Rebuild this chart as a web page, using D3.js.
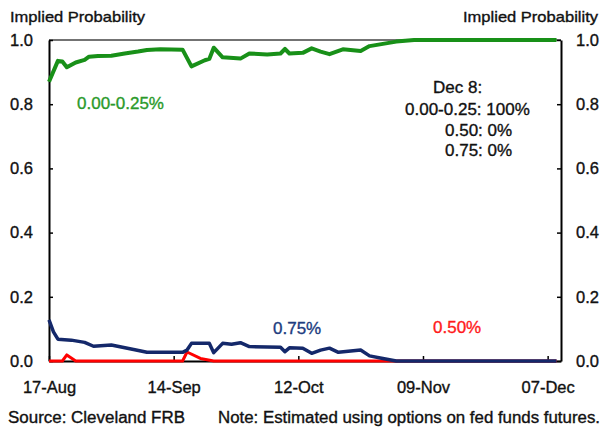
<!DOCTYPE html>
<html>
<head>
<meta charset="utf-8">
<script src="https://cdn.jsdelivr.net/npm/d3@7"></script>
<style>
  body { margin: 0; background: #fff; }
  text { font-family: "Liberation Sans", Arial, sans-serif; stroke-width: 0.35px; }
</style>
</head>
<body>
<div id="graph"></div>
<script>
// Implied probabilities (one array per series)
const greenDates = ['2015-08-17', '2015-08-19', '2015-08-20', '2015-08-21', '2015-08-23', '2015-08-25', '2015-08-26',
  '2015-08-28', '2015-08-31', '2015-09-03', '2015-09-06', '2015-09-08', '2015-09-11', '2015-09-16', '2015-09-18',
  '2015-09-21', '2015-09-22', '2015-09-23', '2015-09-25', '2015-09-29', '2015-10-01', '2015-10-05', '2015-10-08',
  '2015-10-09', '2015-10-10', '2015-10-13', '2015-10-15', '2015-10-17', '2015-10-19', '2015-10-22', '2015-10-26',
  '2015-10-28', '2015-10-31', '2015-11-03', '2015-11-05', '2015-11-07', '2015-12-09']
const greenValues = [0.870, 0.935, 0.933, 0.915, 0.930, 0.938, 0.948,
  0.950, 0.951, 0.958, 0.964, 0.969, 0.971, 0.970, 0.918,
  0.937, 0.941, 0.976, 0.946, 0.942, 0.958, 0.955, 0.958,
  0.972, 0.958, 0.960, 0.974, 0.964, 0.956, 0.971, 0.966,
  0.981, 0.988, 0.995, 0.998, 1.000, 1.000]

const blueDates = ['2015-08-17', '2015-08-18', '2015-08-19', '2015-08-22', '2015-08-25', '2015-08-27', '2015-08-31',
  '2015-09-05', '2015-09-08', '2015-09-16', '2015-09-17', '2015-09-18', '2015-09-22', '2015-09-23', '2015-09-25',
  '2015-09-27', '2015-09-29', '2015-10-01', '2015-10-08', '2015-10-09', '2015-10-10', '2015-10-13', '2015-10-15',
  '2015-10-17', '2015-10-19', '2015-10-21', '2015-10-26', '2015-10-28', '2015-10-31', '2015-11-03', '2015-12-09']
const blueValues = [0.128, 0.091, 0.068, 0.065, 0.058, 0.046, 0.050,
  0.036, 0.027, 0.027, 0.034, 0.055, 0.055, 0.026, 0.055,
  0.052, 0.057, 0.045, 0.043, 0.029, 0.041, 0.040, 0.024,
  0.034, 0.040, 0.027, 0.034, 0.016, 0.008, 0.000, 0.000]

const redDates = ['2015-08-17', '2015-08-20', '2015-08-21', '2015-08-23', '2015-09-16', '2015-09-17', '2015-09-20',
  '2015-09-23', '2015-12-09']
const redValues = [0, 0, 0.019, 0, 0, 0.028, 0.008, 0, 0]

const xTicks = ['2015-08-17', '2015-09-14', '2015-10-12', '2015-11-09', '2015-12-07']
const yTicks = [0, 0.2, 0.4, 0.6, 0.8, 1.0]
const noteLines = ['Dec 8:', '0.00-0.25: 100%', '0.50: 0%', '0.75: 0%']

const parse = d3.timeParse('%Y-%m-%d')
const colors = { green: '#189018', blue: '#14286a', red: '#ff0000' }

const W = 603, H = 428
const plot = { left: 49, right: 561, top: 40, bottom: 361 }

const svg = d3.select('#graph')
  .append('svg')
  .attr('width', W)
  .attr('height', H)
  .style('display', 'block')

const x = d3.scaleTime()
  .domain([parse('2015-08-17'), parse('2015-12-10')])
  .range([plot.left, plot.right])
const y = d3.scaleLinear()
  .domain([0, 1])
  .range([plot.bottom, plot.top])

// top frame line
svg.append('line')
  .attr('x1', plot.left).attr('x2', plot.right)
  .attr('y1', plot.top).attr('y2', plot.top)
  .attr('stroke', '#444').attr('stroke-width', 1.5)

// Y axes (left and right, ticks pointing inward)
const yAxisL = svg.append('g')
  .attr('transform', 'translate(' + plot.left + ',0)')
  .call(d3.axisLeft(y).tickValues(yTicks).tickFormat(d3.format('.1f')).tickSize(-4).tickSizeOuter(0).tickPadding(16))
const yAxisR = svg.append('g')
  .attr('transform', 'translate(' + plot.right + ',0)')
  .call(d3.axisRight(y).tickValues(yTicks).tickFormat(d3.format('.1f')).tickSize(-4).tickSizeOuter(0).tickPadding(15))

// X axis
const xAxis = svg.append('g')
  .attr('transform', 'translate(0,' + plot.bottom + ')')
  .call(d3.axisBottom(x).tickValues(xTicks.map(parse)).tickFormat(d3.timeFormat('%d-%b')).tickSize(-5).tickSizeOuter(0).tickPadding(20))

for (const g of [yAxisL, yAxisR, xAxis]) {
  g.select('.domain').attr('stroke', '#000').attr('stroke-width', 2)
  g.selectAll('.tick line').attr('stroke', '#000').attr('stroke-width', 1.5)
  g.selectAll('.tick text').attr('fill', '#111').attr('stroke', '#111').style('font-size', '16.5px')
}

// Lines
const line = d3.line()
  .x(d => x(d.date))
  .y(d => y(d.value))

function drawSeries(dates, values, color, width) {
  const data = dates.map((d, i) => ({ date: parse(d), value: values[i] }))
  svg.append('path')
    .datum(data)
    .attr('fill', 'none')
    .attr('stroke', color)
    .attr('stroke-width', width)
    .attr('stroke-linejoin', 'round')
    .attr('d', line)
}
drawSeries(greenDates, greenValues, colors.green, 4)
drawSeries(redDates, redValues, colors.red, 3)
drawSeries(blueDates, blueValues, colors.blue, 3.5)

// Series labels
function label(xPos, yPos, color, size, t) {
  return svg.append('text').attr('x', xPos).attr('y', yPos)
    .attr('fill', color).attr('stroke', color)
    .style('font-size', size + 'px').text(t)
}
label(77, 109, '#2a9a2a', 17, '0.00-0.25%')
label(273, 334, '#203c80', 17, '0.75%')
label(433, 333, '#ff1a1a', 17, '0.50%')

// Dec 8 note
const noteX = [433, 405, 445, 445]
const noteY = [93, 115, 136, 156]
noteLines.forEach((t, i) => label(noteX[i], noteY[i], '#111', 17, t))

// Axis titles
label(10, 22, '#111', 15, 'Implied Probability').attr('textLength', 135).attr('lengthAdjust', 'spacingAndGlyphs')
label(463, 22, '#111', 15, 'Implied Probability').attr('textLength', 135).attr('lengthAdjust', 'spacingAndGlyphs')

// Footer
label(8, 423, '#111', 16, 'Source: Cleveland FRB').attr('textLength', 177).attr('lengthAdjust', 'spacingAndGlyphs')
label(218, 423, '#111', 16, 'Note: Estimated using options on fed funds futures.')
  .attr('textLength', 382).attr('lengthAdjust', 'spacingAndGlyphs')
</script>
</body>
</html>
